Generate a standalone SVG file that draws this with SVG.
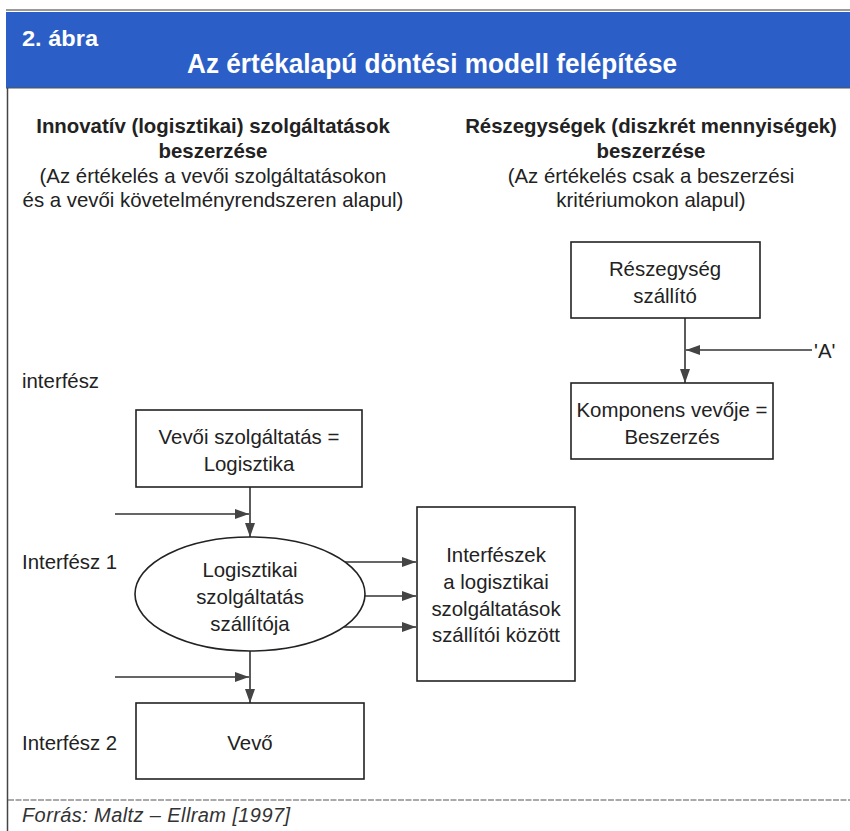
<svg xmlns="http://www.w3.org/2000/svg" width="850" height="831" viewBox="0 0 850 831">
<defs>
<style>
.t{font-family:"Liberation Sans",Arial,sans-serif;font-size:20.4px;fill:#222;text-anchor:middle}
.l{font-family:"Liberation Sans",Arial,sans-serif;font-size:20.4px;fill:#222}
.h{font-family:"Liberation Sans",Arial,sans-serif;font-size:20.4px;font-weight:bold;fill:#222;text-anchor:middle}
.box{fill:#fff;stroke:#222;stroke-width:1.6}
.ln{fill:none;stroke:#333;stroke-width:1.6}
</style>
<marker id="ah" viewBox="0 0 14 10" refX="14" refY="5" markerWidth="14" markerHeight="10" markerUnits="userSpaceOnUse" orient="auto">
<path d="M0,0 L14,5 L0,10 Z" fill="#444"/>
</marker>
</defs>
<rect width="850" height="831" fill="#fff"/>
<line x1="6" y1="10" x2="850" y2="10" stroke="#999" stroke-width="2"/>
<rect x="6" y="12" width="844" height="76" fill="#2b5ec6"/>
<line x1="6" y1="88" x2="850" y2="88" stroke="#555" stroke-width="1"/>
<line x1="7.5" y1="88" x2="7.5" y2="831" stroke="#444" stroke-width="1.5"/>
<text x="22" y="46" font-family="Liberation Sans,Arial,sans-serif" font-size="22" font-weight="bold" fill="#fff" textLength="76" lengthAdjust="spacingAndGlyphs">2. ábra</text>
<text x="432" y="73" font-family="Liberation Sans,Arial,sans-serif" font-size="27" font-weight="bold" fill="#fff" text-anchor="middle" textLength="490" lengthAdjust="spacingAndGlyphs">Az értékalapú döntési modell felépítése</text>

<g id="head-left">
<text class="h" x="213" y="133">Innovatív (logisztikai) szolgáltatások</text>
<text class="h" x="213" y="158">beszerzése</text>
<text class="t" x="213" y="183">(Az értékelés a vevői szolgáltatásokon</text>
<text class="t" x="213" y="207">és a vevői követelményrendszeren alapul)</text>
</g>
<g id="head-right">
<text class="h" x="651" y="133">Részegységek (diszkrét mennyiségek)</text>
<text class="h" x="651" y="158">beszerzése</text>
<text class="t" x="651" y="183">(Az értékelés csak a beszerzési</text>
<text class="t" x="651" y="207">kritériumokon alapul)</text>
</g>

<g id="connectors">
<line class="ln" x1="685" y1="318" x2="685" y2="383" marker-end="url(#ah)"/>
<line class="ln" x1="812" y1="350" x2="686" y2="350" marker-end="url(#ah)"/>
<line class="ln" x1="250" y1="487" x2="250" y2="537" marker-end="url(#ah)"/>
<line class="ln" x1="115" y1="514" x2="249" y2="514" marker-end="url(#ah)"/>
<line class="ln" x1="250" y1="650" x2="250" y2="703" marker-end="url(#ah)"/>
<line class="ln" x1="115" y1="677" x2="249" y2="677" marker-end="url(#ah)"/>
<line class="ln" x1="342" y1="562" x2="416" y2="562" marker-end="url(#ah)"/>
<line class="ln" x1="365" y1="596" x2="416" y2="596" marker-end="url(#ah)"/>
<line class="ln" x1="342" y1="627" x2="416" y2="627" marker-end="url(#ah)"/>
</g>

<g id="reszegyseg-szallito">
<rect class="box" x="571" y="242" width="189" height="76"/>
<text class="t" x="665" y="276">Részegység</text>
<text class="t" x="665" y="303">szállító</text>
</g>
<text class="l" x="814" y="358">'A'</text>
<g id="komponens-vevoje">
<rect class="box" x="571" y="383" width="202" height="76"/>
<text class="t" x="672" y="417">Komponens vevője =</text>
<text class="t" x="672" y="444">Beszerzés</text>
</g>

<text class="l" x="22" y="388">interfész</text>
<text class="l" x="22" y="569">Interfész 1</text>
<text class="l" x="22" y="750">Interfész 2</text>

<g id="vevoi-szolgaltatas">
<rect class="box" x="136" y="410" width="226" height="77"/>
<text class="t" x="249" y="444">Vevői szolgáltatás =</text>
<text class="t" x="249" y="471">Logisztika</text>
</g>
<g id="logisztikai-szolgaltato">
<ellipse class="box" cx="250" cy="594" rx="115" ry="57"/>
<text class="t" x="250" y="577">Logisztikai</text>
<text class="t" x="250" y="604">szolgáltatás</text>
<text class="t" x="250" y="631">szállítója</text>
</g>
<g id="interfeszek">
<rect class="box" x="417" y="507" width="158" height="174"/>
<text class="t" x="496" y="562">Interfészek</text>
<text class="t" x="496" y="589">a logisztikai</text>
<text class="t" x="496" y="616">szolgáltatások</text>
<text class="t" x="496" y="642">szállítói között</text>
</g>
<g id="vevo">
<rect class="box" x="136" y="703" width="228" height="76"/>
<text class="t" x="250" y="750">Vevő</text>
</g>

<line x1="8" y1="800" x2="850" y2="800" stroke="#555" stroke-width="1.2" stroke-dasharray="6,1.5"/>
<text x="22" y="822" font-family="Liberation Sans,Arial,sans-serif" font-size="20" font-style="italic" fill="#333" textLength="268" lengthAdjust="spacing">Forrás: Maltz – Ellram [1997]</text>
</svg>
